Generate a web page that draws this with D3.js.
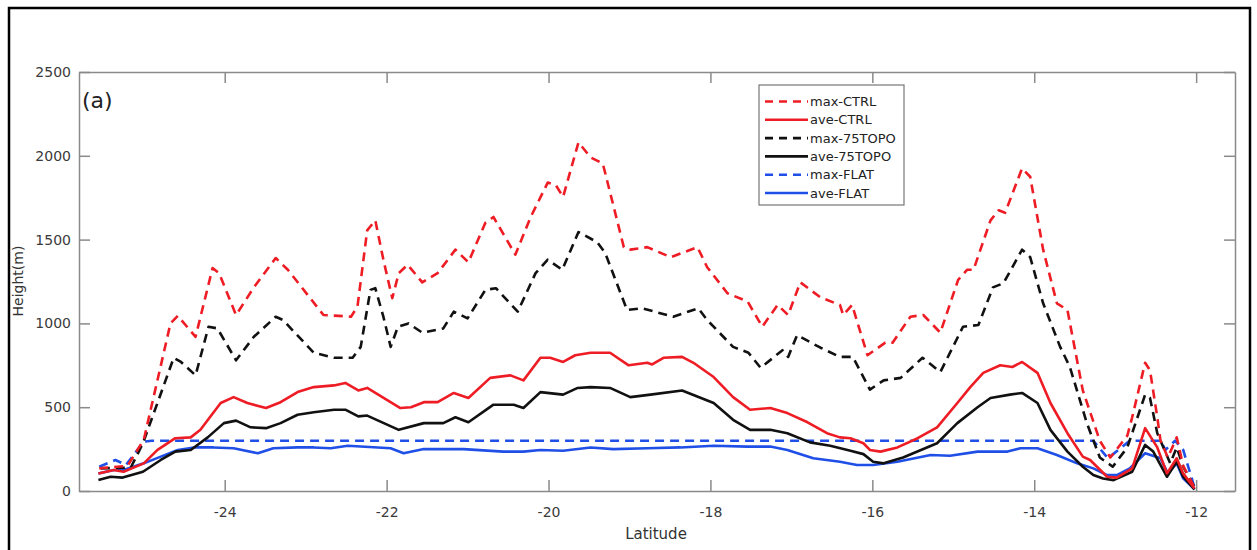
<!DOCTYPE html>
<html>
<head>
<meta charset="utf-8">
<script src="https://cdn.jsdelivr.net/npm/d3@7"></script>
<style>
  body { margin: 0; background: #fff; }
  svg text { font-family: "DejaVu Sans", sans-serif; }
</style>
</head>
<body>
<svg id="chart"></svg>
<script>
// latitude / height(m) pairs
const maxCTRL = [[-25.55,135],[-25.2,150],[-25.0,305],[-24.67,1000],[-24.58,1045],[-24.36,920],[-24.15,1330],[-24.07,1300],[-23.86,1050],[-23.64,1215],[-23.37,1390],[-23.22,1320],[-22.78,1050],[-22.59,1045],[-22.44,1040],[-22.36,1100],[-22.24,1555],[-22.14,1615],[-22.04,1380],[-21.93,1150],[-21.85,1300],[-21.74,1350],[-21.56,1245],[-21.37,1300],[-21.15,1440],[-20.99,1365],[-20.78,1600],[-20.68,1635],[-20.41,1410],[-20.22,1635],[-20.01,1840],[-19.91,1825],[-19.82,1755],[-19.63,2080],[-19.48,1990],[-19.33,1955],[-19.07,1455],[-18.99,1440],[-18.78,1455],[-18.49,1395],[-18.16,1455],[-18.04,1335],[-17.79,1180],[-17.54,1130],[-17.36,980],[-17.17,1110],[-17.04,1050],[-16.89,1245],[-16.64,1155],[-16.40,1110],[-16.36,1050],[-16.25,1110],[-16.06,810],[-15.84,885],[-15.75,885],[-15.53,1040],[-15.37,1050],[-15.16,945],[-14.94,1260],[-14.83,1320],[-14.75,1320],[-14.54,1615],[-14.44,1675],[-14.36,1660],[-14.15,1925],[-14.05,1875],[-13.89,1440],[-13.72,1120],[-13.59,1080],[-13.40,600],[-13.19,300],[-13.06,200],[-12.85,330],[-12.79,440],[-12.63,765],[-12.57,720],[-12.48,440],[-12.44,300],[-12.35,200],[-12.24,320],[-12.16,150],[-12.02,20]];
const aveCTRL = [[-25.56,105],[-25.37,125],[-25.25,115],[-25.0,165],[-24.83,245],[-24.61,315],[-24.42,320],[-24.30,365],[-24.05,525],[-23.89,560],[-23.72,525],[-23.49,495],[-23.31,530],[-23.10,590],[-22.90,620],[-22.65,630],[-22.51,645],[-22.35,600],[-22.24,615],[-21.83,495],[-21.70,500],[-21.54,530],[-21.37,530],[-21.17,585],[-20.99,555],[-20.72,675],[-20.47,690],[-20.31,660],[-20.10,795],[-19.98,795],[-19.82,770],[-19.67,810],[-19.48,825],[-19.24,825],[-19.01,750],[-18.78,765],[-18.72,755],[-18.58,795],[-18.35,800],[-18.21,765],[-17.96,680],[-17.72,560],[-17.51,485],[-17.26,495],[-17.05,465],[-16.80,410],[-16.56,345],[-16.40,320],[-16.27,315],[-16.11,285],[-16.03,245],[-15.90,235],[-15.69,260],[-15.44,315],[-15.20,380],[-14.95,525],[-14.79,620],[-14.63,705],[-14.42,750],[-14.27,740],[-14.15,770],[-13.96,705],[-13.80,525],[-13.59,345],[-13.40,205],[-13.31,185],[-13.10,85],[-12.98,80],[-12.79,135],[-12.63,375],[-12.48,260],[-12.36,105],[-12.24,195],[-12.16,105],[-12.02,15]];
const maxTOPO = [[-25.53,135],[-25.16,140],[-25.01,285],[-24.63,795],[-24.54,770],[-24.36,690],[-24.20,980],[-24.09,970],[-23.86,780],[-23.64,920],[-23.37,1040],[-23.28,1020],[-22.90,825],[-22.65,795],[-22.42,795],[-22.32,860],[-22.20,1200],[-22.14,1210],[-22.04,1040],[-21.95,860],[-21.86,980],[-21.73,1000],[-21.56,945],[-21.30,970],[-21.17,1070],[-21.00,1030],[-20.78,1200],[-20.65,1210],[-20.38,1070],[-20.16,1300],[-20.01,1380],[-19.83,1320],[-19.63,1545],[-19.40,1485],[-19.30,1420],[-19.03,1080],[-18.84,1090],[-18.46,1040],[-18.15,1090],[-18.04,1020],[-17.72,860],[-17.53,825],[-17.38,735],[-17.11,840],[-17.04,800],[-16.93,930],[-16.64,855],[-16.40,800],[-16.24,800],[-16.03,605],[-15.86,660],[-15.65,675],[-15.38,795],[-15.16,710],[-14.88,980],[-14.69,990],[-14.51,1215],[-14.38,1240],[-14.15,1440],[-14.05,1395],[-13.89,1120],[-13.68,860],[-13.56,740],[-13.35,405],[-13.19,200],[-13.03,145],[-12.85,260],[-12.63,575],[-12.57,555],[-12.48,345],[-12.32,165],[-12.24,260],[-12.16,145],[-12.02,20]];
const aveTOPO = [[-25.56,65],[-25.41,85],[-25.26,80],[-25.01,115],[-24.79,185],[-24.61,235],[-24.42,245],[-24.21,320],[-24.01,405],[-23.86,420],[-23.68,380],[-23.49,375],[-23.31,405],[-23.10,455],[-22.90,470],[-22.65,485],[-22.51,485],[-22.35,445],[-22.24,450],[-21.85,365],[-21.54,405],[-21.30,405],[-21.15,440],[-20.99,410],[-20.68,515],[-20.43,515],[-20.31,495],[-20.10,590],[-19.82,575],[-19.64,615],[-19.48,620],[-19.24,615],[-18.99,560],[-18.74,575],[-18.35,600],[-17.96,525],[-17.72,425],[-17.51,365],[-17.26,365],[-17.05,345],[-16.77,290],[-16.52,270],[-16.27,240],[-16.11,220],[-15.99,175],[-15.86,165],[-15.62,200],[-15.20,285],[-14.95,405],[-14.70,500],[-14.54,555],[-14.30,575],[-14.15,585],[-13.96,525],[-13.80,365],[-13.59,235],[-13.40,145],[-13.27,95],[-13.15,75],[-13.02,65],[-12.79,115],[-12.63,275],[-12.53,235],[-12.36,85],[-12.24,175],[-12.16,85],[-12.02,10]];
const maxFLAT = [[-25.55,145],[-25.35,185],[-25.22,155],[-25.0,295],[-24.9,300],[-13.27,300],[-13.09,195],[-12.82,300],[-12.44,300],[-12.38,245],[-12.26,300],[-12.16,245],[-12.02,20]];
const aveFLAT = [[-25.56,105],[-25.37,125],[-25.25,125],[-25.0,165],[-24.79,205],[-24.58,245],[-24.38,260],[-24.14,260],[-23.89,255],[-23.59,225],[-23.40,255],[-23.10,260],[-22.90,260],[-22.69,255],[-22.48,270],[-21.95,255],[-21.79,225],[-21.54,250],[-21.05,250],[-20.56,235],[-20.31,235],[-20.10,245],[-19.82,240],[-19.48,260],[-19.20,250],[-18.78,255],[-18.37,260],[-17.96,270],[-17.54,265],[-17.26,265],[-17.05,245],[-16.73,195],[-16.40,175],[-16.19,155],[-15.99,155],[-15.69,175],[-15.28,215],[-15.04,210],[-14.70,235],[-14.33,235],[-14.17,255],[-13.96,255],[-13.72,215],[-13.47,165],[-13.27,135],[-13.10,95],[-12.98,95],[-12.82,135],[-12.63,225],[-12.44,195],[-12.35,105],[-12.24,165],[-12.16,75],[-12.02,10]];

const seriesNames = ["max-CTRL", "ave-CTRL", "max-75TOPO", "ave-75TOPO", "max-FLAT", "ave-FLAT"];
const seriesData = [maxCTRL, aveCTRL, maxTOPO, aveTOPO, maxFLAT, aveFLAT];
const xTicks = [-24, -22, -20, -18, -16, -14, -12];
const yTicks = [0, 500, 1000, 1500, 2000, 2500];

const colors = ["#ee1c24", "#ee1c24", "#111111", "#111111", "#1f4fe6", "#1f4fe6"];
const dashed = [true, false, true, false, true, false];

const W = 1257, H = 550;
const padL = 79, padR = 1235, padT = 72, padB = 491;

const svg = d3.select("#chart").attr("width", W).attr("height", H);

// outer frame
svg.append("rect")
  .attr("x", 9).attr("y", 8)
  .attr("width", 1241).attr("height", 570)
  .attr("fill", "none").attr("stroke", "#000").attr("stroke-width", 2.5);

const x = d3.scaleLinear().domain([-25.8, -11.52]).range([padL, padR]);
const y = d3.scaleLinear().domain([0, 2500]).range([padB, padT]);

const axisCol = "#8a8a8a";
const tickLen = 11;
const plain = d => String(d);

const styleAxis = g => {
  g.select(".domain").attr("stroke", axisCol).attr("stroke-width", 1.5);
  g.selectAll(".tick line").attr("stroke", axisCol).attr("stroke-width", 1.5);
  g.selectAll(".tick text").attr("fill", "#3a3a3a").style("font-size", "14px").style("font-family", "DejaVu Sans");
};

svg.append("g").attr("transform", `translate(0,${padB})`)
  .call(d3.axisBottom(x).tickValues(xTicks).tickFormat(plain).tickSizeInner(-tickLen).tickSizeOuter(0).tickPadding(16))
  .call(styleAxis);
svg.append("g").attr("transform", `translate(0,${padT})`)
  .call(d3.axisTop(x).tickValues(xTicks).tickSizeInner(-tickLen).tickSizeOuter(0).tickFormat(""))
  .call(styleAxis);
svg.append("g").attr("transform", `translate(${padL},0)`)
  .call(d3.axisLeft(y).tickValues(yTicks).tickFormat(plain).tickSizeInner(-tickLen).tickSizeOuter(0).tickPadding(8))
  .call(styleAxis);
svg.append("g").attr("transform", `translate(${padR},0)`)
  .call(d3.axisRight(y).tickValues(yTicks).tickSizeInner(-tickLen).tickSizeOuter(0).tickFormat(""))
  .call(styleAxis);

// the lines
const line = d3.line().x(d => x(d[0])).y(d => y(d[1]));

// draw flat first, then topo, then ctrl on top
[5, 4, 3, 2, 1, 0].forEach(i => {
  svg.append("path")
    .datum(seriesData[i])
    .attr("d", line)
    .attr("fill", "none")
    .attr("stroke", colors[i])
    .attr("stroke-width", 2.6)
    .attr("stroke-linejoin", "round")
    .attr("stroke-dasharray", dashed[i] ? "9,6" : null);
});

// panel label
svg.append("text")
  .attr("x", 82).attr("y", 108)
  .style("font-size", "22px").attr("fill", "#222")
  .text("(a)");

// axis titles
svg.append("text")
  .attr("x", 656).attr("y", 539)
  .attr("text-anchor", "middle")
  .style("font-size", "15px").attr("fill", "#333")
  .text("Latitude");

svg.append("text")
  .attr("transform", "translate(23,281) rotate(-90)")
  .attr("text-anchor", "middle")
  .style("font-size", "14px").attr("fill", "#333")
  .text("Height(m)");

// legend
const lg = svg.append("g");
lg.append("rect")
  .attr("x", 759).attr("y", 85).attr("width", 145).attr("height", 120)
  .attr("fill", "#fff").attr("stroke", "#777").attr("stroke-width", 1.2);

seriesNames.forEach((name, i) => {
  const yy = 101.5 + i * 18.3;
  lg.append("line")
    .attr("x1", 765).attr("x2", 808).attr("y1", yy).attr("y2", yy)
    .attr("stroke", colors[i]).attr("stroke-width", 2.6)
    .attr("stroke-dasharray", dashed[i] ? "8,6" : null);
  lg.append("text")
    .attr("x", 810).attr("y", yy + 4.5)
    .style("font-size", "13px").attr("fill", "#222")
    .text(name);
});
</script>
</body>
</html>
